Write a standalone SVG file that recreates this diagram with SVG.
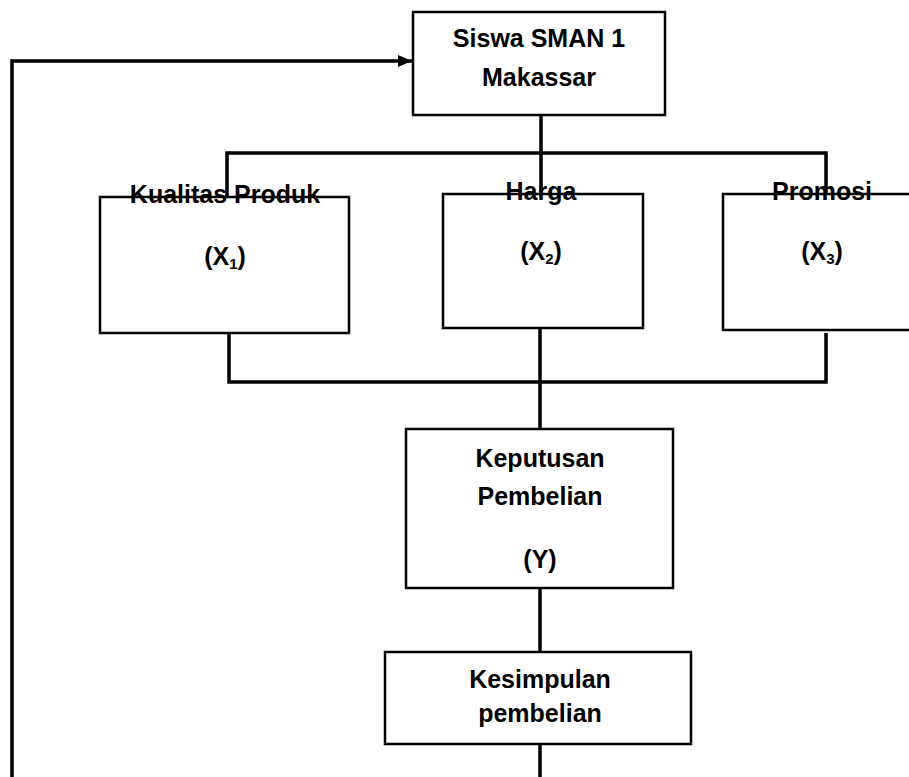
<svg xmlns="http://www.w3.org/2000/svg" width="909" height="777" viewBox="0 0 909 777">
<style>
.box{fill:#fff;stroke:#000;stroke-width:2.5}
.t{font-family:"Liberation Sans",Arial,sans-serif;font-weight:bold;font-size:25px;fill:#000;text-anchor:middle}
.c{fill:none;stroke:#000;stroke-width:3.5}
.sub{font-size:15px}
</style>
<defs>
<marker id="ah" markerWidth="14" markerHeight="12" refX="14" refY="6" orient="auto" markerUnits="userSpaceOnUse">
<path d="M0,0 L14,6 L0,12 Z" fill="#000"/>
</marker>
</defs>
<g id="connectors">
<path class="c" d="M12,777 V61 H412" marker-end="url(#ah)"/>
<path class="c" d="M541,115 V194"/>
<path class="c" d="M227,198 V153 H826 V194"/>
<path class="c" d="M229,333 V382 H826 V333"/>
<path class="c" d="M540,328 V429"/>
<path class="c" d="M540,588 V652"/>
<path class="c" d="M540,744 V777"/>
</g>
<g id="siswa">
<rect class="box" x="413" y="12" width="252" height="103"/>
<text class="t" x="539" y="47">Siswa SMAN 1</text>
<text class="t" x="539" y="86">Makassar</text>
</g>
<g id="kualitas">
<rect class="box" x="100" y="197" width="249" height="136"/>
<text class="t" x="225" y="203">Kualitas Produk</text>
<text class="t" x="225" y="265">(X<tspan class="sub" dy="4">1</tspan><tspan dy="-4">)</tspan></text>
</g>
<g id="harga">
<rect class="box" x="443" y="194" width="200" height="134"/>
<text class="t" x="541" y="200">Harga</text>
<text class="t" x="541" y="260">(X<tspan class="sub" dy="4">2</tspan><tspan dy="-4">)</tspan></text>
</g>
<g id="promosi">
<rect class="box" x="723" y="194" width="200" height="136"/>
<text class="t" x="822" y="200">Promosi</text>
<text class="t" x="822" y="260">(X<tspan class="sub" dy="4">3</tspan><tspan dy="-4">)</tspan></text>
</g>
<g id="keputusan">
<rect class="box" x="406" y="429" width="267" height="159"/>
<text class="t" x="540" y="467">Keputusan</text>
<text class="t" x="540" y="505">Pembelian</text>
<text class="t" x="540" y="568">(Y)</text>
</g>
<g id="kesimpulan">
<rect class="box" x="385" y="652" width="306" height="92"/>
<text class="t" x="540" y="688">Kesimpulan</text>
<text class="t" x="540" y="722">pembelian</text>
</g>
</svg>
